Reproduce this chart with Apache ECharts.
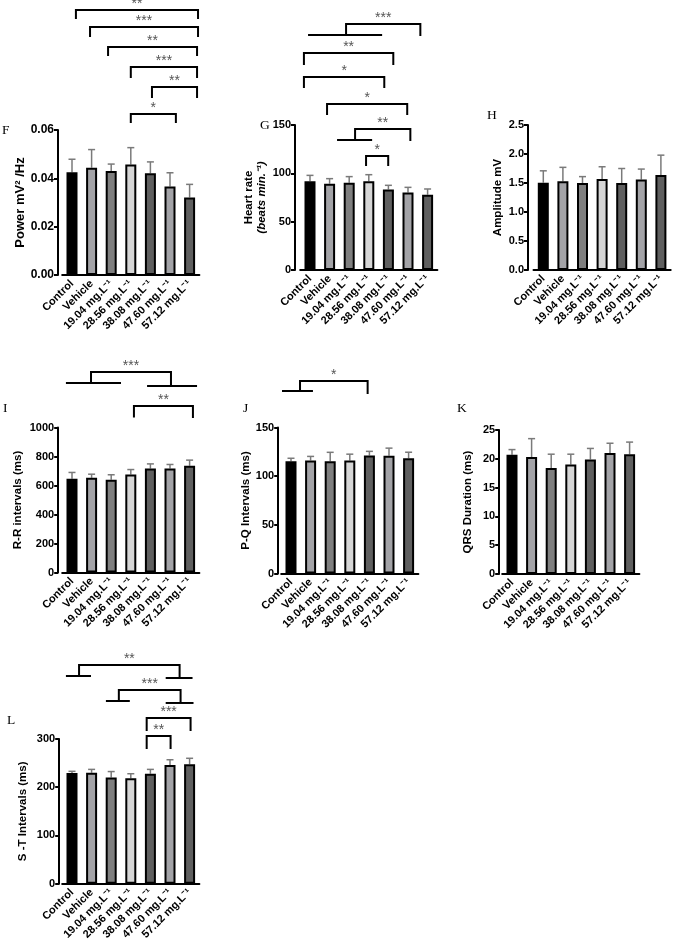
<!DOCTYPE html>
<html>
<head>
<meta charset="utf-8">
<script src="https://cdn.jsdelivr.net/npm/echarts@6.0.0/dist/echarts.min.js"></script>
<style>
  html, body { margin: 0; padding: 0; background: #fff; }
  #chart { width: 676px; height: 945px; }
</style>
</head>
<body>
<div id="chart"></div>
<script>
const categories = ["Control", "Vehicle", "19.04 mg.L⁻¹", "28.56 mg.L⁻¹", "38.08 mg.L⁻¹", "47.60 mg.L⁻¹", "57.12 mg.L⁻¹"];
const barColors = ["#000000", "#a3a3a7", "#7f7f7f", "#d6d6d6", "#5f5f5f", "#a3a3a7", "#5f5f5f"];

// mean and mean+SD for each panel
const powerMean = [0.0425, 0.0444, 0.0430, 0.0457, 0.0421, 0.0366, 0.0321];
const powerUpper = [0.0479, 0.0519, 0.0459, 0.0527, 0.0468, 0.0423, 0.0375];
const hrMean = [91.7, 89.3, 90.3, 91.7, 83.4, 80.3, 77.9];
const hrUpper = [97.9, 94.5, 96.6, 98.6, 87.6, 85.5, 83.8];
const ampMean = [1.506, 1.53, 1.50, 1.57, 1.50, 1.56, 1.64];
const ampUpper = [1.71, 1.77, 1.61, 1.78, 1.75, 1.74, 1.98];
const rrMean = [646, 653, 639, 676, 717, 717, 736];
const rrUpper = [690, 678, 674, 710, 749, 745, 775];
const pqMean = [115.3, 116.2, 115.2, 116.0, 121.2, 121.0, 118.4];
const pqUpper = [118.4, 120.3, 124.5, 122.6, 125.5, 128.8, 124.6];
const qrsMean = [20.7, 20.3, 18.4, 19.0, 19.9, 21.0, 20.8];
const qrsUpper = [21.6, 23.5, 20.8, 20.8, 21.8, 22.7, 22.9];
const stMean = [229.7, 230.0, 220.0, 218.7, 228.0, 246.0, 247.7];
const stUpper = [233.0, 237.0, 232.5, 228.0, 237.0, 257.0, 260.0];

// significance brackets: [from, to, top, leftEnd, rightEnd, label, leftGroup, rightGroup]
const powerBrackets = [
  [0.2, 6.43, 0.1097, 0.1059, 0.1059, "**"],
  [0.92, 6.43, 0.1026, 0.0985, 0.0985, "***"],
  [1.84, 6.38, 0.0943, 0.0906, 0.0906, "**"],
  [3.0, 6.38, 0.0861, 0.0815, 0.0815, "***"],
  [4.08, 6.38, 0.0778, 0.0732, 0.0732, "**"],
  [3.0, 5.3, 0.0666, 0.0629, 0.0629, "*"],
];
const hrBrackets = [
  [1.84, 5.63, 254.5, 243.1, 242.1, "***", [-0.1, 3.68]],
  [-0.31, 4.25, 224.5, 212.1, 212.1, "**"],
  [-0.31, 3.79, 199.7, 188.3, 188.3, "*"],
  [0.87, 4.96, 171.7, 160.3, 160.3, "*"],
  [2.3, 5.12, 145.9, 134.5, 133.5, "**", [1.38, 3.17]],
  [2.86, 3.99, 117.9, 107.6, 107.6, "*"],
];
const rrBrackets = [
  [0.97, 5.05, 1383, 1307, 1286, "***", [-0.31, 2.5], [3.83, 6.38]],
  [3.16, 6.17, 1148, 1069, 1066, "**"],
];
const pqBrackets = [
  [0.46, 3.91, 197.8, 187.5, 184.4, "*", [-0.46, 1.12]],
];
const stBrackets = [
  [0.36, 5.49, 453.4, 430.6, 426.5, "**", [-0.31, 0.97], [4.78, 6.15]],
  [2.39, 5.54, 401.6, 378.8, 374.7, "***", [1.73, 2.95], [4.78, 6.2]],
  [3.81, 6.05, 343.6, 316.6, 316.6, "***"],
  [3.81, 5.03, 306.2, 279.3, 279.3, "**"],
];

const panels = [
  { letter: "F", lx: 2, ly: 123, left: 62.2, top: 130, height: 145, offset: 4.2, max: 0.06, interval: 0.02, digits: 2,
    name: "Power mV² /Hz", nameGap: 31, nameSize: 13, mean: powerMean, upper: powerUpper, brackets: powerBrackets },
  { letter: "G", lx: 260, ly: 118, left: 300.2, top: 125, height: 145, offset: 5.2, max: 150, interval: 50, digits: 0,
    name: "Heart rate\n{it|(beats min.⁻¹)}", nameGap: 24, nameSize: 11.5, mean: hrMean, upper: hrUpper, brackets: hrBrackets },
  { letter: "H", lx: 487, ly: 108, left: 533.5, top: 125, height: 145, offset: 5.5, max: 2.5, interval: 0.5, digits: 1,
    name: "Amplitude mV", nameGap: 23, nameSize: 11.5, mean: ampMean, upper: ampUpper, brackets: [] },
  { letter: "I", lx: 3, ly: 401, left: 62.2, top: 427.5, height: 145, offset: 4, max: 1000, interval: 200, digits: 0,
    name: "R-R intervals (ms)", nameGap: 34, nameSize: 11.5, mean: rrMean, upper: rrUpper, brackets: rrBrackets },
  { letter: "J", lx: 243, ly: 401, left: 281.2, top: 427.5, height: 146, offset: 3, max: 150, interval: 50, digits: 0,
    name: "P-Q Intervals (ms)", nameGap: 26, nameSize: 11.5, mean: pqMean, upper: pqUpper, brackets: pqBrackets },
  { letter: "K", lx: 457, ly: 401, left: 502.2, top: 430, height: 144, offset: 3, max: 25, interval: 5, digits: 0,
    name: "QRS Duration (ms)", nameGap: 25, nameSize: 11.5, mean: qrsMean, upper: qrsUpper, brackets: [] },
  { letter: "L", lx: 7, ly: 713, left: 62.2, top: 739, height: 144.7, offset: 3, max: 300, interval: 100, digits: 0,
    name: "S -T Intervals (ms)", nameGap: 30, nameSize: 11.5, mean: stMean, upper: stUpper, brackets: stBrackets },
];

const FONT = '"Liberation Sans", Arial, sans-serif';

const chart = echarts.init(document.getElementById("chart"), null, { renderer: "canvas" });

const grid = [], xAxis = [], yAxis = [], series = [], graphic = [];

panels.forEach((p, k) => {
  grid.push({ left: p.left, top: p.top, width: 137.2, height: p.height, containLabel: false });

  xAxis.push({
    type: "category", gridIndex: k, data: categories,
    axisLine: { onZero: false, lineStyle: { color: "#000", width: 2 } },
    axisTick: { alignWithLabel: true, length: 4, lineStyle: { color: "#000", width: 1.5 } },
    axisLabel: { interval: 0, rotate: 45, margin: 7, color: "#000", fontWeight: "bold", fontSize: 11, fontFamily: FONT },
  });
  xAxis.push({ type: "value", gridIndex: k, min: -0.5, max: 6.5, show: false });

  yAxis.push({
    type: "value", gridIndex: k, min: 0, max: p.max, interval: p.interval, offset: p.offset,
    name: p.name, nameLocation: "middle", nameGap: p.nameGap, nameRotate: 90,
    nameTextStyle: {
      color: "#000", fontWeight: "bold", fontSize: p.nameSize, fontFamily: FONT, lineHeight: 13,
      rich: { it: { fontStyle: "italic", fontWeight: "bold", fontSize: p.nameSize, fontFamily: FONT, color: "#000" } },
    },
    axisLine: { show: true, onZero: false, lineStyle: { color: "#000", width: 2 } },
    axisTick: { show: true, length: 4, lineStyle: { color: "#000", width: 2 } },
    axisLabel: {
      color: "#000", fontWeight: "bold", fontSize: k === 0 ? 12 : 11, fontFamily: FONT, margin: 4,
      formatter: (v) => v.toFixed(p.digits),
    },
    splitLine: { show: false },
  });

  // error bars (mean → mean + SD), drawn behind the bars
  series.push({
    type: "custom", xAxisIndex: 2 * k + 1, yAxisIndex: k, z: 1, clip: false,
    data: p.mean.map((m, i) => [i, m, p.upper[i]]),
    encode: { x: 0, y: [1, 2] },
    renderItem: (params, api) => {
      const lo = api.coord([api.value(0), api.value(1)]);
      const hi = api.coord([api.value(0), api.value(2)]);
      const s = { stroke: "#7a7a7a", lineWidth: 1.5 };
      return {
        type: "group",
        children: [
          { type: "line", shape: { x1: lo[0], y1: lo[1], x2: hi[0], y2: hi[1] }, style: s },
          { type: "line", shape: { x1: hi[0] - 3.5, y1: hi[1], x2: hi[0] + 3.5, y2: hi[1] }, style: s },
        ],
      };
    },
  });

  series.push({
    type: "bar", xAxisIndex: 2 * k, yAxisIndex: k, z: 2, barWidth: 11,
    data: p.mean.map((m, i) => ({ value: m, itemStyle: { color: barColors[i] } })),
    itemStyle: { borderColor: "#000", borderWidth: 2 },
  });

  if (p.brackets.length) {
    const list = p.brackets;
    series.push({
      type: "custom", xAxisIndex: 2 * k + 1, yAxisIndex: k, z: 3, clip: false,
      data: list.map((b) => [b[0], b[2]]),
      encode: { x: 0, y: 1 },
      renderItem: (params, api) => {
        const [from, to, top, lEnd, rEnd, label, lGroup, rGroup] = list[params.dataIndex];
        const c = (x, y) => api.coord([x, y]);
        const st = { stroke: "#000", lineWidth: 2, fill: null };
        const children = [{
          type: "polyline",
          shape: { points: [c(from, lEnd), c(from, top), c(to, top), c(to, rEnd)] },
          style: st,
        }];
        [[lGroup, lEnd], [rGroup, rEnd]].forEach(([g, y]) => {
          if (!g) return;
          const a = c(g[0], y), b = c(g[1], y);
          children.push({ type: "line", shape: { x1: a[0], y1: a[1], x2: b[0], y2: b[1] }, style: st });
        });
        const mid = c((from + to) / 2, top);
        children.push({
          type: "text", x: mid[0], y: mid[1] + 1,
          style: { text: label, align: "center", verticalAlign: "bottom", fill: "#555", fontSize: 14, fontFamily: FONT },
        });
        return { type: "group", children };
      },
    });
  }

  graphic.push({
    type: "text", left: p.lx, top: p.ly,
    style: { text: p.letter, fill: "#000", fontSize: 13.5, fontFamily: '"Liberation Serif", "Times New Roman", serif' },
  });
});

chart.setOption({
  animation: false,
  backgroundColor: "#fff",
  grid, xAxis, yAxis, series, graphic,
});
</script>
</body>
</html>
